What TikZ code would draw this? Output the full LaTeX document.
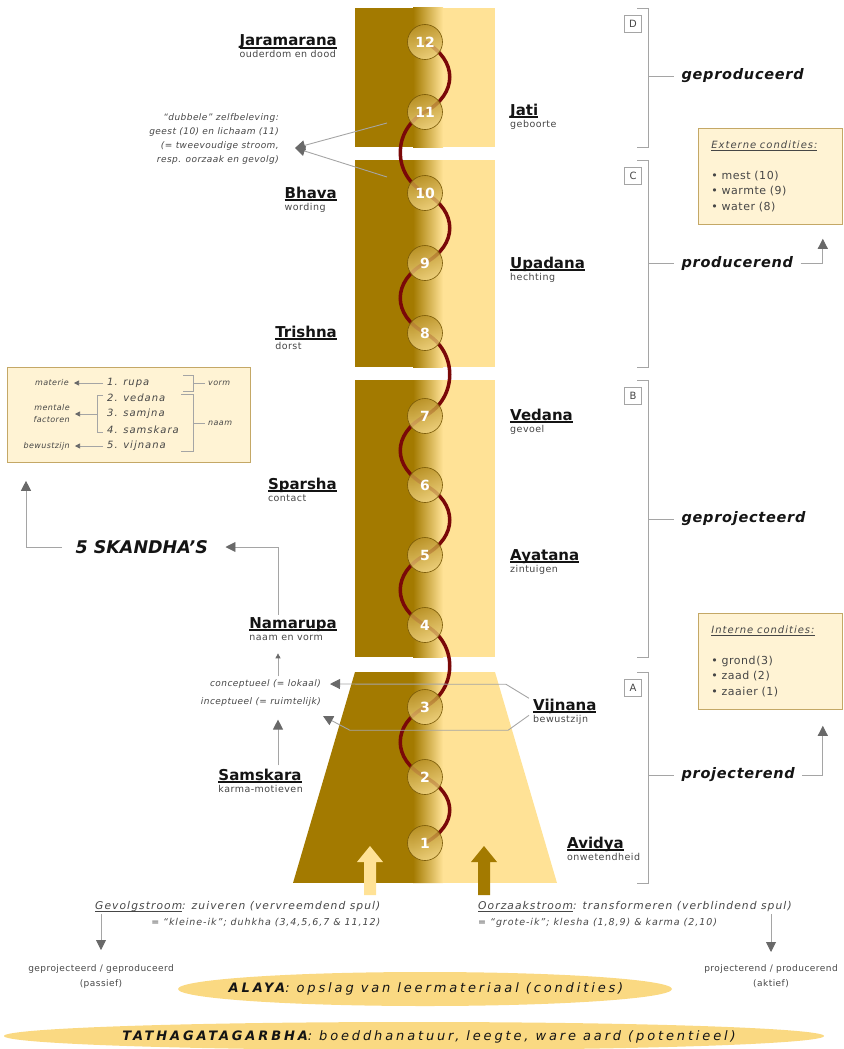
\documentclass[tikz,border=0pt]{standalone}
\usepackage{fontspec}
\setmainfont{DejaVu Sans}
\newfontfamily\wideA[LetterSpace=5]{DejaVu Sans}
\newfontfamily\wideB[LetterSpace=10]{DejaVu Sans}
\newfontfamily\wideC[LetterSpace=22]{DejaVu Sans}
\usetikzlibrary{arrows.meta}
\definecolor{golddark}{RGB}{163,122,0}
\definecolor{goldlight}{RGB}{255,226,150}
\definecolor{wavered}{RGB}{122,8,8}
\definecolor{balltop}{RGB}{186,146,40}
\definecolor{ballbot}{RGB}{242,214,132}
\definecolor{balledge}{RGB}{120,88,6}
\definecolor{condfill}{RGB}{255,243,212}
\definecolor{conddraw}{RGB}{196,168,102}
\definecolor{linegray}{RGB}{165,165,165}
\definecolor{tipgray}{RGB}{105,105,105}
\definecolor{notegray}{RGB}{70,70,70}
\definecolor{termblack}{RGB}{20,20,20}
\definecolor{ovalfill}{RGB}{250,217,130}
\newcommand{\undl}[1]{\setbox0=\hbox{#1}\rlap{\rule[-2.6pt]{\wd0}{1.3pt}}\box0}
\newcommand{\term}[2]{{\fontsize{15}{14}\selectfont\bfseries\undl{#1}}\\{\wideA\fontsize{9.5}{11}\selectfont\color{notegray}#2}}

\begin{document}
\begin{tikzpicture}[x=1pt, y=-1pt,
  garrow/.style={draw=linegray, line width=0.9pt, -{Triangle[length=10pt, width=10pt, color=tipgray]}},
  sarrow/.style={draw=linegray, line width=0.7pt, -{Triangle[length=5pt, width=5pt, color=tipgray]}},
  gline/.style={draw=linegray, line width=0.9pt},
  ball/.style={circle, minimum size=35pt, inner sep=0pt, draw=balledge, line width=0.6pt,
    top color=balltop, bottom color=ballbot, fill opacity=0.8, text opacity=1,
    text=white, font=\fontsize{14}{14}\selectfont\bfseries},
  termL/.style={anchor=base east, align=left, inner sep=0pt, text=termblack},
  termR/.style={anchor=base west, align=left, inner sep=0pt, text=termblack},
  letterbox/.style={draw=linegray, line width=0.8pt, minimum size=17pt, inner sep=0pt,
    text=notegray, font=\fontsize{10}{10}\selectfont},
  phase/.style={anchor=west, text=termblack, font=\fontsize{14.5}{15}\selectfont\wideA\bfseries\itshape},
  note/.style={inner sep=0pt, text=notegray, font=\fontsize{9}{14}\selectfont\wideA\itshape},
  condbox/.style={draw=conddraw, fill=condfill, line width=0.8pt, anchor=north west,
    minimum width=144pt, minimum height=96pt, text width=118pt, inner xsep=13pt,
    align=left, text=notegray, font=\fontsize{11}{15.5}\selectfont\wideA},
  skitem/.style={anchor=west, inner sep=0pt, text=notegray, font=\fontsize{10}{12}\selectfont\wideB\itshape},
  sklabel/.style={anchor=east, inner sep=0pt, align=right, text=notegray, font=\fontsize{8}{12}\selectfont\wideA\itshape},
  stream/.style={inner sep=0pt, text=notegray, font=\fontsize{10.7}{16}\selectfont\wideB\itshape},
  result/.style={anchor=north, inner sep=0pt, align=center, text=notegray, font=\fontsize{9}{15}\selectfont\wideA},
  oval/.style={text=termblack, font=\fontsize{13}{13}\selectfont\wideC\itshape}]

  \useasboundingbox (0,0) rectangle (843,1049);

  \foreach \t/\b in {8/147, 160/367, 380/657} {
    \fill[golddark] (355,\t) rectangle (425,\b);
    \fill[goldlight] (425,\t) rectangle (495,\b);
    \shade[left color=golddark, right color=goldlight] (413,\t) rectangle (443,\b);
  }
  \begin{scope}
    \clip (355,672) -- (495,672) -- (557,883) -- (293,883) -- cycle;
    \fill[golddark] (290,672) rectangle (425,883);
    \fill[goldlight] (425,672) rectangle (560,883);
    \shade[left color=golddark, right color=goldlight] (413,672) rectangle (443,883);
  \end{scope}

  \fill[goldlight] (364,895) -- (364,862) -- (357,862) -- (370,846) -- (383,862) -- (376,862) -- (376,895) -- cycle;
  \fill[golddark] (478,895) -- (478,862) -- (471,862) -- (484,846) -- (497,862) -- (490,862) -- (490,895) -- cycle;

  \foreach \i/\y in {1/843, 2/777, 3/707, 4/625, 5/555, 6/485, 7/416, 8/333, 9/263, 10/193, 11/112, 12/42}
    \coordinate (p\i) at (425,\y);
  \foreach \i/\j/\s in {1/2/1, 2/3/-1, 3/4/1, 4/5/-1, 5/6/1, 6/7/-1, 7/8/1, 8/9/-1, 9/10/1, 10/11/-1, 11/12/1}
    \draw[wavered, line width=3.5pt] (p\i) .. controls +(33*\s,-18) and +(33*\s,18) .. (p\j);
  \foreach \i in {1,...,12}
    \node[ball] (c\i) at (p\i) {\i};

  \node[termL] (jara) at (337,58) {\term{Jaramarana}{ouderdom en dood}};
  \node[termR] (jati) at (510,127) {\term{Jati}{geboorte}};
  \node[termL] (bhav) at (337,210) {\term{Bhava}{wording}};
  \node[termR] (upad) at (510,280) {\term{Upadana}{hechting}};
  \node[termL] (tris) at (337,349) {\term{Trishna}{dorst}};
  \node[termR] (veda) at (510,432) {\term{Vedana}{gevoel}};
  \node[termL] (spar) at (337,501) {\term{Sparsha}{contact}};
  \node[termR] (ayat) at (510,572) {\term{Ayatana}{zintuigen}};
  \node[termL] (nama) at (337,640) {\term{Namarupa}{naam en vorm}};
  \node[termR] (viji) at (533,722) {\term{Vijnana}{bewustzijn}};
  \node[termL] (sams) at (303,792) {\term{Samskara}{karma-motieven}};
  \node[termR] (avid) at (567,860) {\term{Avidya}{onwetendheid}};

  \foreach \t/\b/\m/\l/\w in {8/147/76/D/geproduceerd, 160/367/263/C/producerend,
                              380/657/519/B/geprojecteerd, 672/883/775/A/projecterend} {
    \draw[gline] (637,\t) -| (648,\b) -- (637,\b);
    \node[letterbox] (bx\l) at (633,\t+16) {\l};
    \node[phase] (ph\l) at (678,\m) {\w};
    \draw[gline] (648,\m) -- ([xshift=-4pt]ph\l.west);
  }

  \node[condbox] (ext) at (698,128) {{\wideB\itshape\fontsize{10}{15.5}\selectfont\undl{Externe condities:}}\\[15pt]
    \textbullet\ mest (10)\\ \textbullet\ warmte (9)\\ \textbullet\ water (8)};
  \node[condbox] (int) at (698,613) {{\wideB\itshape\fontsize{10}{15.5}\selectfont\undl{Interne condities:}}\\[15pt]
    \textbullet\ grond(3)\\ \textbullet\ zaad (2)\\ \textbullet\ zaaier (1)};
  \draw[garrow] ([xshift=4pt]phC.east) -| ([xshift=-20pt,yshift=-14pt]ext.south east);
  \draw[garrow] ([xshift=4pt]phA.east) -| ([xshift=-20pt,yshift=-16pt]int.south east);

  \node[note, anchor=east, align=right] (dubb) at (279,139) {“dubbele” zelfbeleving:\\geest (10) en lichaam (11)\\(= tweevoudige stroom,\\resp. oorzaak en gevolg)};
  \coordinate (dtip) at ([xshift=16pt,yshift=-9pt]dubb.east);
  \draw[garrow] ([shift={(-38,11)}]c11.center) -- (dtip);
  \draw[garrow] ([shift={(-38,-16)}]c10.center) -- (dtip);

  \node[draw=conddraw, fill=condfill, line width=0.8pt, anchor=north west, minimum width=243pt, minimum height=95pt] (skbox) at (7,367) {};
  \node[skitem] (r1) at (107,383) {1. rupa};
  \node[skitem] (r2) at (107,398) {2. vedana};
  \node[skitem] (r3) at (107,414) {3. samjna};
  \node[skitem] (r4) at (107,430) {4. samskara};
  \node[skitem] (r5) at (107,446) {5. vijnana};
  \node[sklabel] (mat) at (69,383) {materie};
  \node[sklabel] (ment) at (70,414) {mentale\\factoren};
  \node[sklabel] (bew) at (70,446) {bewustzijn};
  \draw[sarrow] ([xshift=-4pt]r1.west) -- ([xshift=5pt]mat.east);
  \draw[sarrow] ([xshift=-10pt]r3.west) -- ([xshift=5pt]ment.east);
  \draw[sarrow] ([xshift=-4pt]r5.west) -- ([xshift=5pt]bew.east);
  \draw[gline, line width=0.7pt] (103,395) -| (97,432) -- (103,432);
  \draw[gline, line width=0.7pt] (183,375) -| (193,391) -- (183,391);
  \draw[gline, line width=0.7pt] (181,394) -| (193,451) -- (181,451);
  \node[sklabel, anchor=west] (vorm) at (208,383) {vorm};
  \node[sklabel, anchor=west] (naam) at (208,423) {naam};
  \draw[gline, line width=0.7pt] (193,383) -- ([xshift=-3pt]vorm.west);
  \draw[gline, line width=0.7pt] (193,423) -- ([xshift=-3pt]naam.west);

  \node[anchor=west, text=termblack, font=\fontsize{17.5}{17}\selectfont\bfseries\itshape] (skan) at (72,547) {5 SKANDHA’S};
  \draw[garrow] ([xshift=-10pt]skan.west) -| ([xshift=19pt,yshift=-18pt]skbox.south west);
  \coordinate (nx) at ([xshift=-59pt,yshift=2pt]nama.north east);
  \draw[garrow] (nx) |- ([xshift=14pt]skan.east);

  \node[note, anchor=east] (conc) at (321,684) {conceptueel (= lokaal)};
  \node[note, anchor=east] (incp) at (321,702) {inceptueel (= ruimtelijk)};
  \coordinate (ny) at ([xshift=-59pt,yshift=-13pt]nama.south east);
  \draw[sarrow] ([yshift=3pt]conc.north -| ny) -- (ny);
  \coordinate (sy) at ([xshift=-25pt,yshift=3pt]sams.north east);
  \draw[garrow] (sy) -- ([yshift=-13pt]sy |- incp.south);
  \draw[garrow] ([shift={(-4,-13)}]viji.west) -- ++(-23,-14) -- ([xshift=9pt]conc.east);
  \draw[garrow] ([shift={(-4,4)}]viji.west) -- ++(-21,15) -- ++(-158,0) -- ([shift={(2,14)}]incp.east);

  \node[stream, anchor=north west, align=right] (gev) at (95,901) {\undl{Gevolgstroom}: zuiveren (vervreemdend spul)\\{\fontsize{9.5}{16}\selectfont = “kleine-ik”; duhkha (3,4,5,6,7 \& 11,12)}};
  \node[stream, anchor=north west, align=left] (oor) at (478,901) {\undl{Oorzaakstroom}: transformeren (verblindend spul)\\{\fontsize{9.5}{16}\selectfont = “grote-ik”; klesha (1,8,9) \& karma (2,10)}};
  \node[result] (pas) at (101,964) {geprojecteerd / geproduceerd\\(passief)};
  \node[result] (akt) at (771,964) {projecterend / producerend\\(aktief)};
  \draw[garrow] (gev.west -| pas.north) -- ([yshift=14pt]pas.north);
  \draw[garrow] (oor.east -| akt.north) -- ([yshift=12pt]akt.north);

  \fill[ovalfill] (425,989) ellipse (247 and 17);
  \node[oval] (alaya) at (426,989) {\textbf{ALAYA}: opslag van leermateriaal (condities)};
  \fill[ovalfill] (414,1036) ellipse (410 and 14);
  \node[oval] (tatha) at (429,1037) {\textbf{TATHAGATAGARBHA}: boeddhanatuur, leegte, ware aard (potentieel)};
\end{tikzpicture}
\end{document}
